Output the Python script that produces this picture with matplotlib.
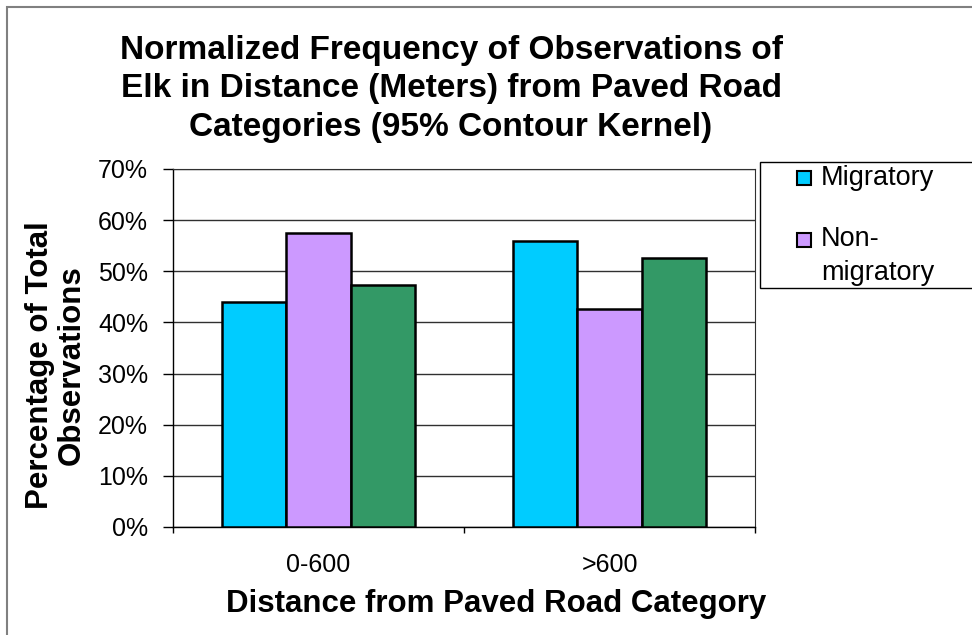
import numpy as np
import matplotlib
matplotlib.use("Agg")
import matplotlib.pyplot as plt
from matplotlib.patches import Rectangle
from matplotlib.ticker import FuncFormatter, FixedLocator

plt.rcParams['font.family'] = ['Liberation Sans', 'DejaVu Sans']

categories = ['0-600', '>600']
migratory = [44.0, 56.0]
non_migratory = [57.4, 42.6]
third = [47.4, 52.6]
series_names = ['Migratory', 'Non-\nmigratory']
colors = ['#00CCFF', '#CC99FF', '#339966']

W, H = 972, 635
fig = plt.figure(figsize=(W / 100, H / 100), dpi=100)

def fx(px):
    return px / W

def fy(py):
    return (H - py) / H

# chart border (right/bottom edges fall outside the picture)
fig.patches.append(Rectangle((fx(7), -0.1), 1.2, fy(7) + 0.1,
                             transform=fig.transFigure, fill=False,
                             edgecolor='#808080', lw=1.5))

ax = fig.add_axes([fx(173), fy(527), (755 - 173) / W, (527 - 169) / H])

x = np.arange(len(categories))
bw = 0.22
for i, vals in enumerate([migratory, non_migratory, third]):
    ax.bar(x + (i - 1) * bw, vals, bw, color=colors[i],
           edgecolor='black', linewidth=1.8, zorder=3)

ax.set_xlim(-0.5, 1.5)
ax.set_ylim(0, 70)
ax.set_yticks(np.arange(0, 71, 10))
ax.yaxis.set_major_formatter(FuncFormatter(lambda v, p: '%d%%' % v))
ax.grid(axis='y', color='#303030', lw=1, zorder=0)
ax.set_axisbelow(True)

ax.set_xticks(x)
ax.set_xticklabels(categories)
ax.xaxis.set_minor_locator(FixedLocator([-0.5, 0.5, 1.5]))
ax.tick_params(axis='x', which='major', length=0, pad=19, labelsize=18)
ax.tick_params(axis='x', which='minor', length=4.5, width=1, direction='out')
ax.tick_params(axis='y', length=7, width=1, direction='out', pad=11, labelsize=18)

for s in ['left', 'bottom']:
    ax.spines[s].set_color('black')
    ax.spines[s].set_linewidth(1)
ax.spines['top'].set_color('#303030')
ax.spines['right'].set_color('#303030')

fig.text(fx(496), fy(612), 'Distance from Paved Road Category',
         ha='center', va='baseline', fontsize=22.5, fontweight='bold')

fig.text(fx(56), fy(365), 'Percentage of Total\nObservations',
         rotation=90, ha='center', va='center', fontsize=22.5,
         fontweight='bold', linespacing=1.05)

fig.text(fx(451), fy(89),
         'Normalized Frequency of Observations of\n'
         'Elk in Distance (Meters) from Paved Road\n'
         'Categories (95% Contour Kernel)',
         ha='center', va='center', fontsize=24, fontweight='bold',
         linespacing=1.3)

# legend box, cut off at the right edge like the reference
fig.patches.append(Rectangle((fx(760), fy(288)), 0.5, (288 - 162) / H,
                             transform=fig.transFigure, fill=True,
                             facecolor='white', edgecolor='black', lw=1))
handle_y = [178, 240]
text_y = [178, 256]
for i, name in enumerate(series_names):
    yc = handle_y[i]
    fig.patches.append(Rectangle((fx(797), fy(yc + 7)), 14 / W, 14 / H,
                                 transform=fig.transFigure,
                                 facecolor=colors[i], edgecolor='black', lw=1.5))
    fig.text(fx(821), fy(text_y[i]), name, ha='left', va='center',
             fontsize=19.5, linespacing=1.4)

fig.savefig('out.png', dpi=100)
